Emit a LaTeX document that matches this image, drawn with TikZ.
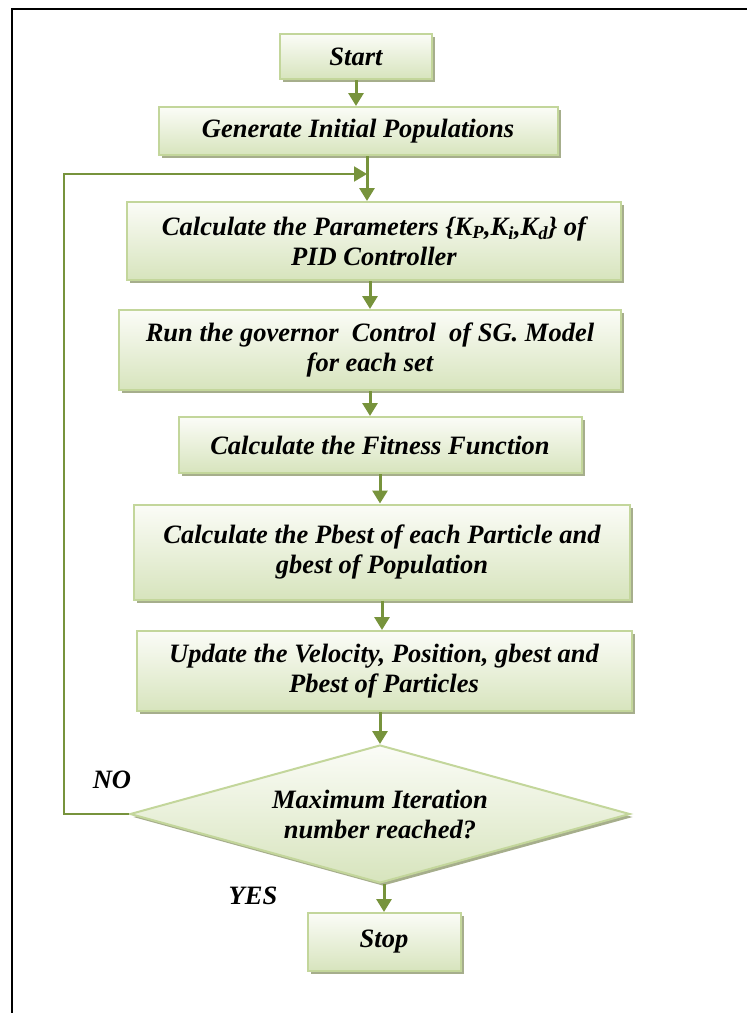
\documentclass[tikz,border=0pt]{standalone}
\usepackage{fontspec}
\setmainfont{Liberation Serif}
\usetikzlibrary{arrows.meta,shapes.geometric,shadows}
\definecolor{flowgreen}{HTML}{77933C}
\definecolor{boxline}{HTML}{C3D69B}
\definecolor{boxtop}{HTML}{FBFCF7}
\definecolor{boxbottom}{HTML}{D7E4BD}
\definecolor{boxshade}{HTML}{A6AE8C}

\begin{document}
\begin{tikzpicture}[x=1pt, y=-1pt, every node/.style={font=\fontsize{26.5}{30}\selectfont\bfseries\itshape}, box/.style={draw=boxline,line width=2pt,top color=boxtop,bottom color=boxbottom,align=center,inner sep=0pt,drop shadow={shadow xshift=3pt,shadow yshift=-3pt,fill=boxshade,opacity=1}}, decision/.style={box,diamond,aspect=3.6}, arr/.style={-{Triangle[length=13pt,width=15pt]},line width=3pt,draw=flowgreen}, loopback/.style={arr,line width=2pt}, frame/.style={line width=2pt,draw=black}]
\useasboundingbox (0,0) rectangle (747,1013);
\draw[frame] (747,9) -| (12,1013);
\node[box,minimum width=152pt,minimum height=45pt] (start) at (356,56.5) {Start};
\node[box,minimum width=399pt,minimum height=48pt] (gen) at (358,131) {Generate Initial Populations};
\node[box,minimum width=494pt,minimum height=78pt] (pid) at (374,241) {Calculate the Parameters \{K\textsubscript{P},K\textsubscript{i},K\textsubscript{d}\} of\\PID Controller};
\node[box,minimum width=502pt,minimum height=80pt] (run) at (370,350) {Run the governor\ \ Control\ \ of SG. Model\\for each set};
\node[box,minimum width=403pt,minimum height=56pt] (fit) at (380,445) {Calculate the Fitness Function};
\node[box,minimum width=496pt,minimum height=95pt] (best) at (382,552) {Calculate the Pbest of each Particle and\\gbest of Population};
\node[box,minimum width=495pt,minimum height=80pt] (upd) at (384,671) {Update the Velocity, Position, gbest and\\Pbest of Particles};
\node[decision,minimum width=500pt,minimum height=138pt] (maxit) at (380,814) {Maximum Iteration\\number reached?};
\node[box,minimum width=153pt,minimum height=58pt] (stop) at (384,942) {Stop};
\node (no) at (112,780) {NO};
\node (yes) at (253,896) {YES};
\coordinate (join) at (367,174);
\draw[arr] (start.south) -- (start.south |- gen.north);
\draw[arr] (gen.south -| join) -- (pid.north -| join);
\draw[arr] (run.north |- pid.south) -- (run.north);
\draw[arr] (run.south) -- (run.south |- fit.north);
\draw[arr] (fit.south) -- (fit.south |- best.north);
\draw[arr] (best.south) -- (best.south |- upd.north);
\draw[arr] (maxit.north |- upd.south) -- (maxit.north);
\draw[arr] (stop.north |- maxit.south) -- (stop.north);
\draw[loopback] (maxit.west) -- ++(-65,0) |- (join);
\end{tikzpicture}
\end{document}
